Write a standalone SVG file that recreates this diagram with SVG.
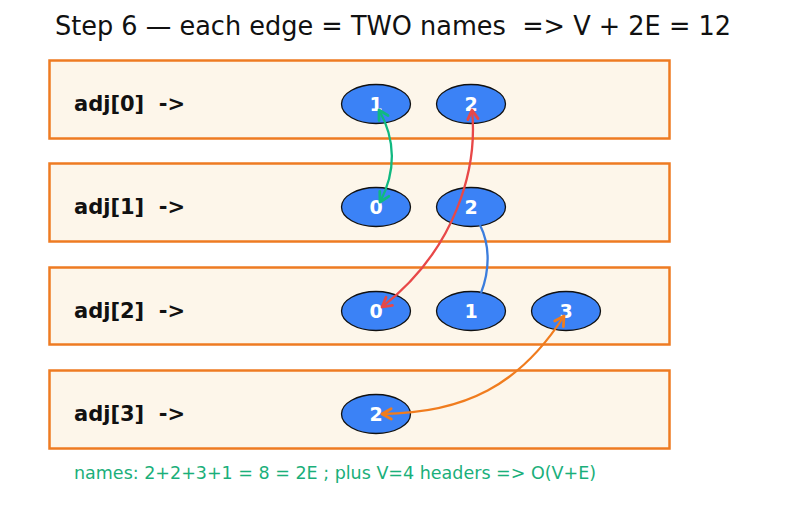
<svg xmlns="http://www.w3.org/2000/svg" width="787" height="512" viewBox="0 0 787 512">
<defs>
<style>
text{white-space:pre}
.box{fill:#fdf6ea;stroke:#ee7b22;stroke-width:2.5}
.lbl{font-family:"DejaVu Sans",sans-serif;font-weight:bold;font-size:21px;fill:#111}
.nd{fill:#3b82f6;stroke:#111;stroke-width:1.3}
.nt{font-family:"DejaVu Sans",sans-serif;font-weight:bold;font-size:19px;fill:#fff;text-anchor:middle}
.e{fill:none;stroke-width:2.3}
.mk{fill:none;stroke-width:2.4;stroke-linecap:round;stroke-linejoin:round}
</style>
<marker id="ag" viewBox="-1 -1 12 12" refX="9" refY="5" markerWidth="6" markerHeight="6" orient="auto-start-reverse"><path class="mk" d="M1,0.5 L9,5 L1,9.5" stroke="#10b981"/></marker>
<marker id="ar" viewBox="-1 -1 12 12" refX="9" refY="5" markerWidth="6" markerHeight="6" orient="auto-start-reverse"><path class="mk" d="M1,0.5 L9,5 L1,9.5" stroke="#e84848"/></marker>
<marker id="ao" viewBox="-1 -1 12 12" refX="9" refY="5" markerWidth="6" markerHeight="6" orient="auto-start-reverse"><path class="mk" d="M1,0.5 L9,5 L1,9.5" stroke="#f07c1e"/></marker>
</defs>
<rect width="787" height="512" fill="#fff"/>
<text x="393" y="35" text-anchor="middle" font-family="DejaVu Sans, sans-serif" font-size="26" fill="#111" textLength="676" lengthAdjust="spacingAndGlyphs" xml:space="preserve">Step 6 — each edge = TWO names  =&gt; V + 2E = 12</text>
<g id="row0"><rect class="box" x="49.5" y="60.5" width="620" height="78"/><text class="lbl" x="74" y="111" xml:space="preserve">adj[0]  -&gt;</text></g>
<g id="row1"><rect class="box" x="49.5" y="163.5" width="620" height="78"/><text class="lbl" x="74" y="214" xml:space="preserve">adj[1]  -&gt;</text></g>
<g id="row2"><rect class="box" x="49.5" y="267.5" width="620" height="77"/><text class="lbl" x="74" y="318" xml:space="preserve">adj[2]  -&gt;</text></g>
<g id="row3"><rect class="box" x="49.5" y="370.5" width="620" height="78"/><text class="lbl" x="74" y="421" xml:space="preserve">adj[3]  -&gt;</text></g>
<g id="n0_1"><ellipse class="nd" cx="376" cy="104" rx="34.5" ry="19.5"/><text class="nt" x="376" y="111">1</text></g>
<g id="n0_2"><ellipse class="nd" cx="471" cy="104" rx="34.5" ry="19.5"/><text class="nt" x="471" y="111">2</text></g>
<g id="n1_0"><ellipse class="nd" cx="376" cy="207" rx="34.5" ry="19.5"/><text class="nt" x="376" y="214">0</text></g>
<g id="n1_2"><ellipse class="nd" cx="471" cy="207" rx="34.5" ry="19.5"/><text class="nt" x="471" y="214">2</text></g>
<g id="n2_0"><ellipse class="nd" cx="376" cy="311" rx="34.5" ry="19.5"/><text class="nt" x="376" y="318">0</text></g>
<g id="n2_1"><ellipse class="nd" cx="471" cy="311" rx="34.5" ry="19.5"/><text class="nt" x="471" y="318">1</text></g>
<g id="n2_3"><ellipse class="nd" cx="566" cy="311" rx="34.5" ry="19.5"/><text class="nt" x="566" y="318">3</text></g>
<g id="n3_2"><ellipse class="nd" cx="376" cy="414" rx="34.5" ry="19.5"/><text class="nt" x="376" y="421">2</text></g>
<g id="edges">
<path class="e" stroke="#10b981" d="M380,202 C396,172 396,140 379,110" marker-start="url(#ag)" marker-end="url(#ag)"/>
<path class="e" stroke="#e84848" d="M472,110 C478,170 455,250 382,307" marker-start="url(#ar)" marker-end="url(#ar)"/>
<path class="e" stroke="#3b7ddd" d="M480,225 C490,245 490,270 481,293"/>
<path class="e" stroke="#f07c1e" d="M382,414 C465,413 520,385 564,316" marker-start="url(#ao)" marker-end="url(#ao)"/>
</g>
<text x="74" y="479" font-family="DejaVu Sans, sans-serif" font-size="17.5" fill="#1aaf7a">names: 2+2+3+1 = 8 = 2E ; plus V=4 headers =&gt; O(V+E)</text>
</svg>
